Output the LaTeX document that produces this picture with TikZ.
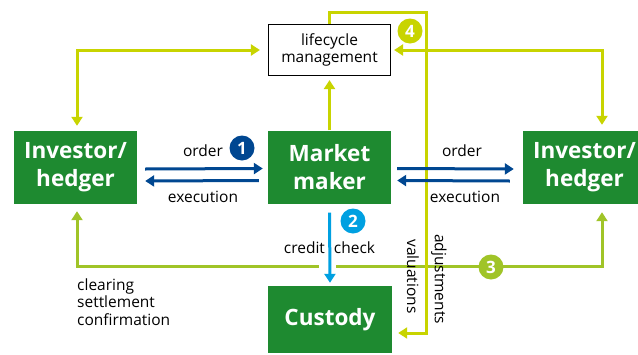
\documentclass[tikz,border=0pt]{standalone}
\usepackage{fontspec}
\setmainfont{Open Sans}
\usetikzlibrary{arrows.meta}

\definecolor{boxgreen}{RGB}{30,138,48}
\definecolor{lifeyellow}{RGB}{200,212,0}
\definecolor{settlegreen}{RGB}{160,196,40}
\definecolor{orderblue}{RGB}{0,71,145}
\definecolor{creditblue}{RGB}{0,160,225}

\begin{document}
\begin{tikzpicture}[x=1pt,y=-1pt,
    party/.style={fill=boxgreen,text=white,font=\bfseries\fontsize{22.5}{28}\selectfont,align=center,minimum width=123pt,minimum height=73pt,inner sep=0pt},
    txt/.style={font=\fontsize{15.5}{17.5}\selectfont,inner sep=0pt},
    tip/.style={-{Triangle[length=9pt,width=11pt]}},
    bitip/.style={{Triangle[length=9pt,width=11pt]}-{Triangle[length=9pt,width=11pt]}},
    ylink/.style={draw=lifeyellow,line width=3pt},
    glink/.style={draw=settlegreen,line width=3pt},
    oflow/.style={draw=orderblue,line width=3pt,tip},
    num/.style={circle,inner sep=0pt,minimum size=25pt,text=white,font=\bfseries\fontsize{17}{17}\selectfont}]
    \clip (0,0) rectangle (638,354);

    % the four parties and the lifecycle box
    \node[party] (invL) at (75.5,167.5) {Investor/\\hedger};
    \node[party] (mm) at (329.5,167) {Market\\maker};
    \node[party] (invR) at (584.5,167.5) {Investor/\\hedger};
    \node[party,minimum width=124pt,minimum height=67pt] (cu) at (330,319.5) {Custody};
    \node[txt,draw,line width=1.2pt,fill=white,minimum width=122pt,minimum height=51pt,align=center] (lc) at (329.5,50) {lifecycle\\management};

    % clearing / settlement (3)
    \coordinate (gl) at (77,266);
    \coordinate (gr) at (602,266);
    \draw[glink,bitip,shorten <=7pt,shorten >=8pt] (gl |- invL.south) -- (gl) -- (gr) -- (gr |- invR.south);
    \coordinate (x3) at (mm.south |- gl);
    \fill[white] ([xshift=-11pt,yshift=3pt]x3) rectangle ([xshift=6pt,yshift=-3pt]x3);
    \node[num,fill=settlegreen] (n3) at (491,267) {3};

    % lifecycle links (4)
    \draw[ylink,bitip] ([xshift=1.5pt,yshift=5pt]invL.north) |- ([xshift=-8pt]lc.west);
    \draw[ylink,bitip] ([xshift=3pt]lc.east) -| ([xshift=17.5pt,yshift=6pt]invR.north);
    \draw[ylink,tip] (mm.north) -- ([yshift=-4pt]lc.south);
    \coordinate (t4) at (426,12);
    \coordinate (b4) at (426,333);
    \draw[ylink,tip,shorten >=6pt] (lc.north) |- (t4) -- (b4) -- (cu.east |- b4);
    \node[num,fill=lifeyellow] (n4) at (410,31) {4};

    % order / execution (1)
    \draw[oflow] ([xshift=8pt,yshift=-1.5pt]invL.east) -- ([xshift=-5pt,yshift=-1.5pt]mm.west);
    \draw[oflow] ([xshift=-9pt,yshift=-13.5pt]mm.west) -- ([xshift=8pt,yshift=-13.5pt]invL.east);
    \draw[oflow] ([xshift=6pt,yshift=-1.5pt]mm.east) -- ([xshift=-9pt,yshift=-1.5pt]invR.west);
    \draw[oflow] ([xshift=-13pt,yshift=-13.5pt]invR.west) -- ([xshift=6pt,yshift=-13.5pt]mm.east);
    \node[txt] (ordL) at (203,151) {order};
    \node[txt] (exeL) at (203,197) {execution};
    \node[txt] (ordR) at (462,151) {order};
    \node[txt] (exeR) at (465,197) {execution};
    \node[num,fill=orderblue] (n1) at (242,148) {1};

    % credit check (2)
    \node[txt] (cc) at (329.5,248) {credit\hspace{9pt}check};
    \draw[draw=creditblue,line width=3pt,tip] ([yshift=-9pt]mm.south) -- ([yshift=3pt]cu.north);
    \node[num,fill=creditblue] (n2) at (353,221) {2};

    \node[txt,rotate=-90] (val) at (413,276.5) {valuations};
    \node[txt,rotate=-90] (adj) at (439,279) {adjustments};
    \node[txt,align=left,anchor=west] (clr) at (77,302) {clearing\\settlement\\confirmation};
\end{tikzpicture}
\end{document}
